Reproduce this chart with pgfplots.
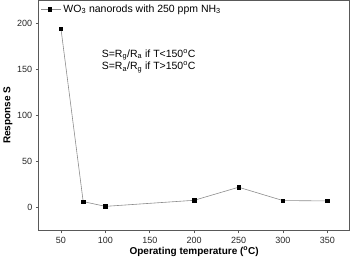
\documentclass[border=0pt]{standalone}
\usepackage{pgfplots}
\pgfplotsset{compat=1.18}
\usepackage{fontspec}
\setmainfont{Liberation Sans}
\begin{document}
\begin{tikzpicture}
\begin{axis}[
  scale only axis,
  width=311pt, height=230pt,
  xmin=25, xmax=375, ymin=-25, ymax=225,
  xtick={50,100,150,200,250,300,350},
  ytick={0,50,100,150,200},
  tick align=outside,
  xtick pos=left, ytick pos=left,
  axis line style={draw=black!65, line width=0.8pt},
  major tick style={black!65, line width=0.6pt},
  major tick length=3pt,
  tick label style={font=\fontsize{9}{10}\selectfont, text=black!85},
  /pgf/number format/assume math mode=true,
  xlabel={\textbf{Operating temperature (\textsuperscript{o}C)}},
  ylabel={\textbf{Response S}},
  label style={font=\fontsize{10}{12}\selectfont},
  xlabel style={yshift=3pt},
  ylabel style={yshift=-2pt},
  legend style={draw=none, fill=none, at={(0,1)}, anchor=north west, font=\fontsize{10.5}{12}\selectfont, inner sep=1pt, xshift=1pt, yshift=-1pt},
  legend cell align=left,
  legend image code/.code={\draw[#1, mark=none] (0cm,0cm) -- (0.7cm,0cm); \draw[#1, only marks] plot coordinates {(0.3cm,0cm)};},
]
\addplot[black!45, line width=0.6pt, mark=square*, mark size=1.7pt, mark options={black, fill=black}]
  coordinates {(50,194) (75,6.2) (100,1) (200,7.6) (250,21.8) (300,7.3) (350,6.9)};
\addlegendentry{WO$_{\mathrm{3}}$ nanorods with 250 ppm NH$_{\mathrm{3}}$}
\node[anchor=west, font=\fontsize{10.5}{12}\selectfont] at (axis cs:92,166) {S=R$_{\mathrm{g}}$/R$_{\mathrm{a}}$ if T<150\textsuperscript{o}C};
\node[anchor=west, font=\fontsize{10.5}{12}\selectfont] at (axis cs:92,152) {S=R$_{\mathrm{a}}$/R$_{\mathrm{g}}$ if T>150\textsuperscript{o}C};
\end{axis}
\end{tikzpicture}
\end{document}
